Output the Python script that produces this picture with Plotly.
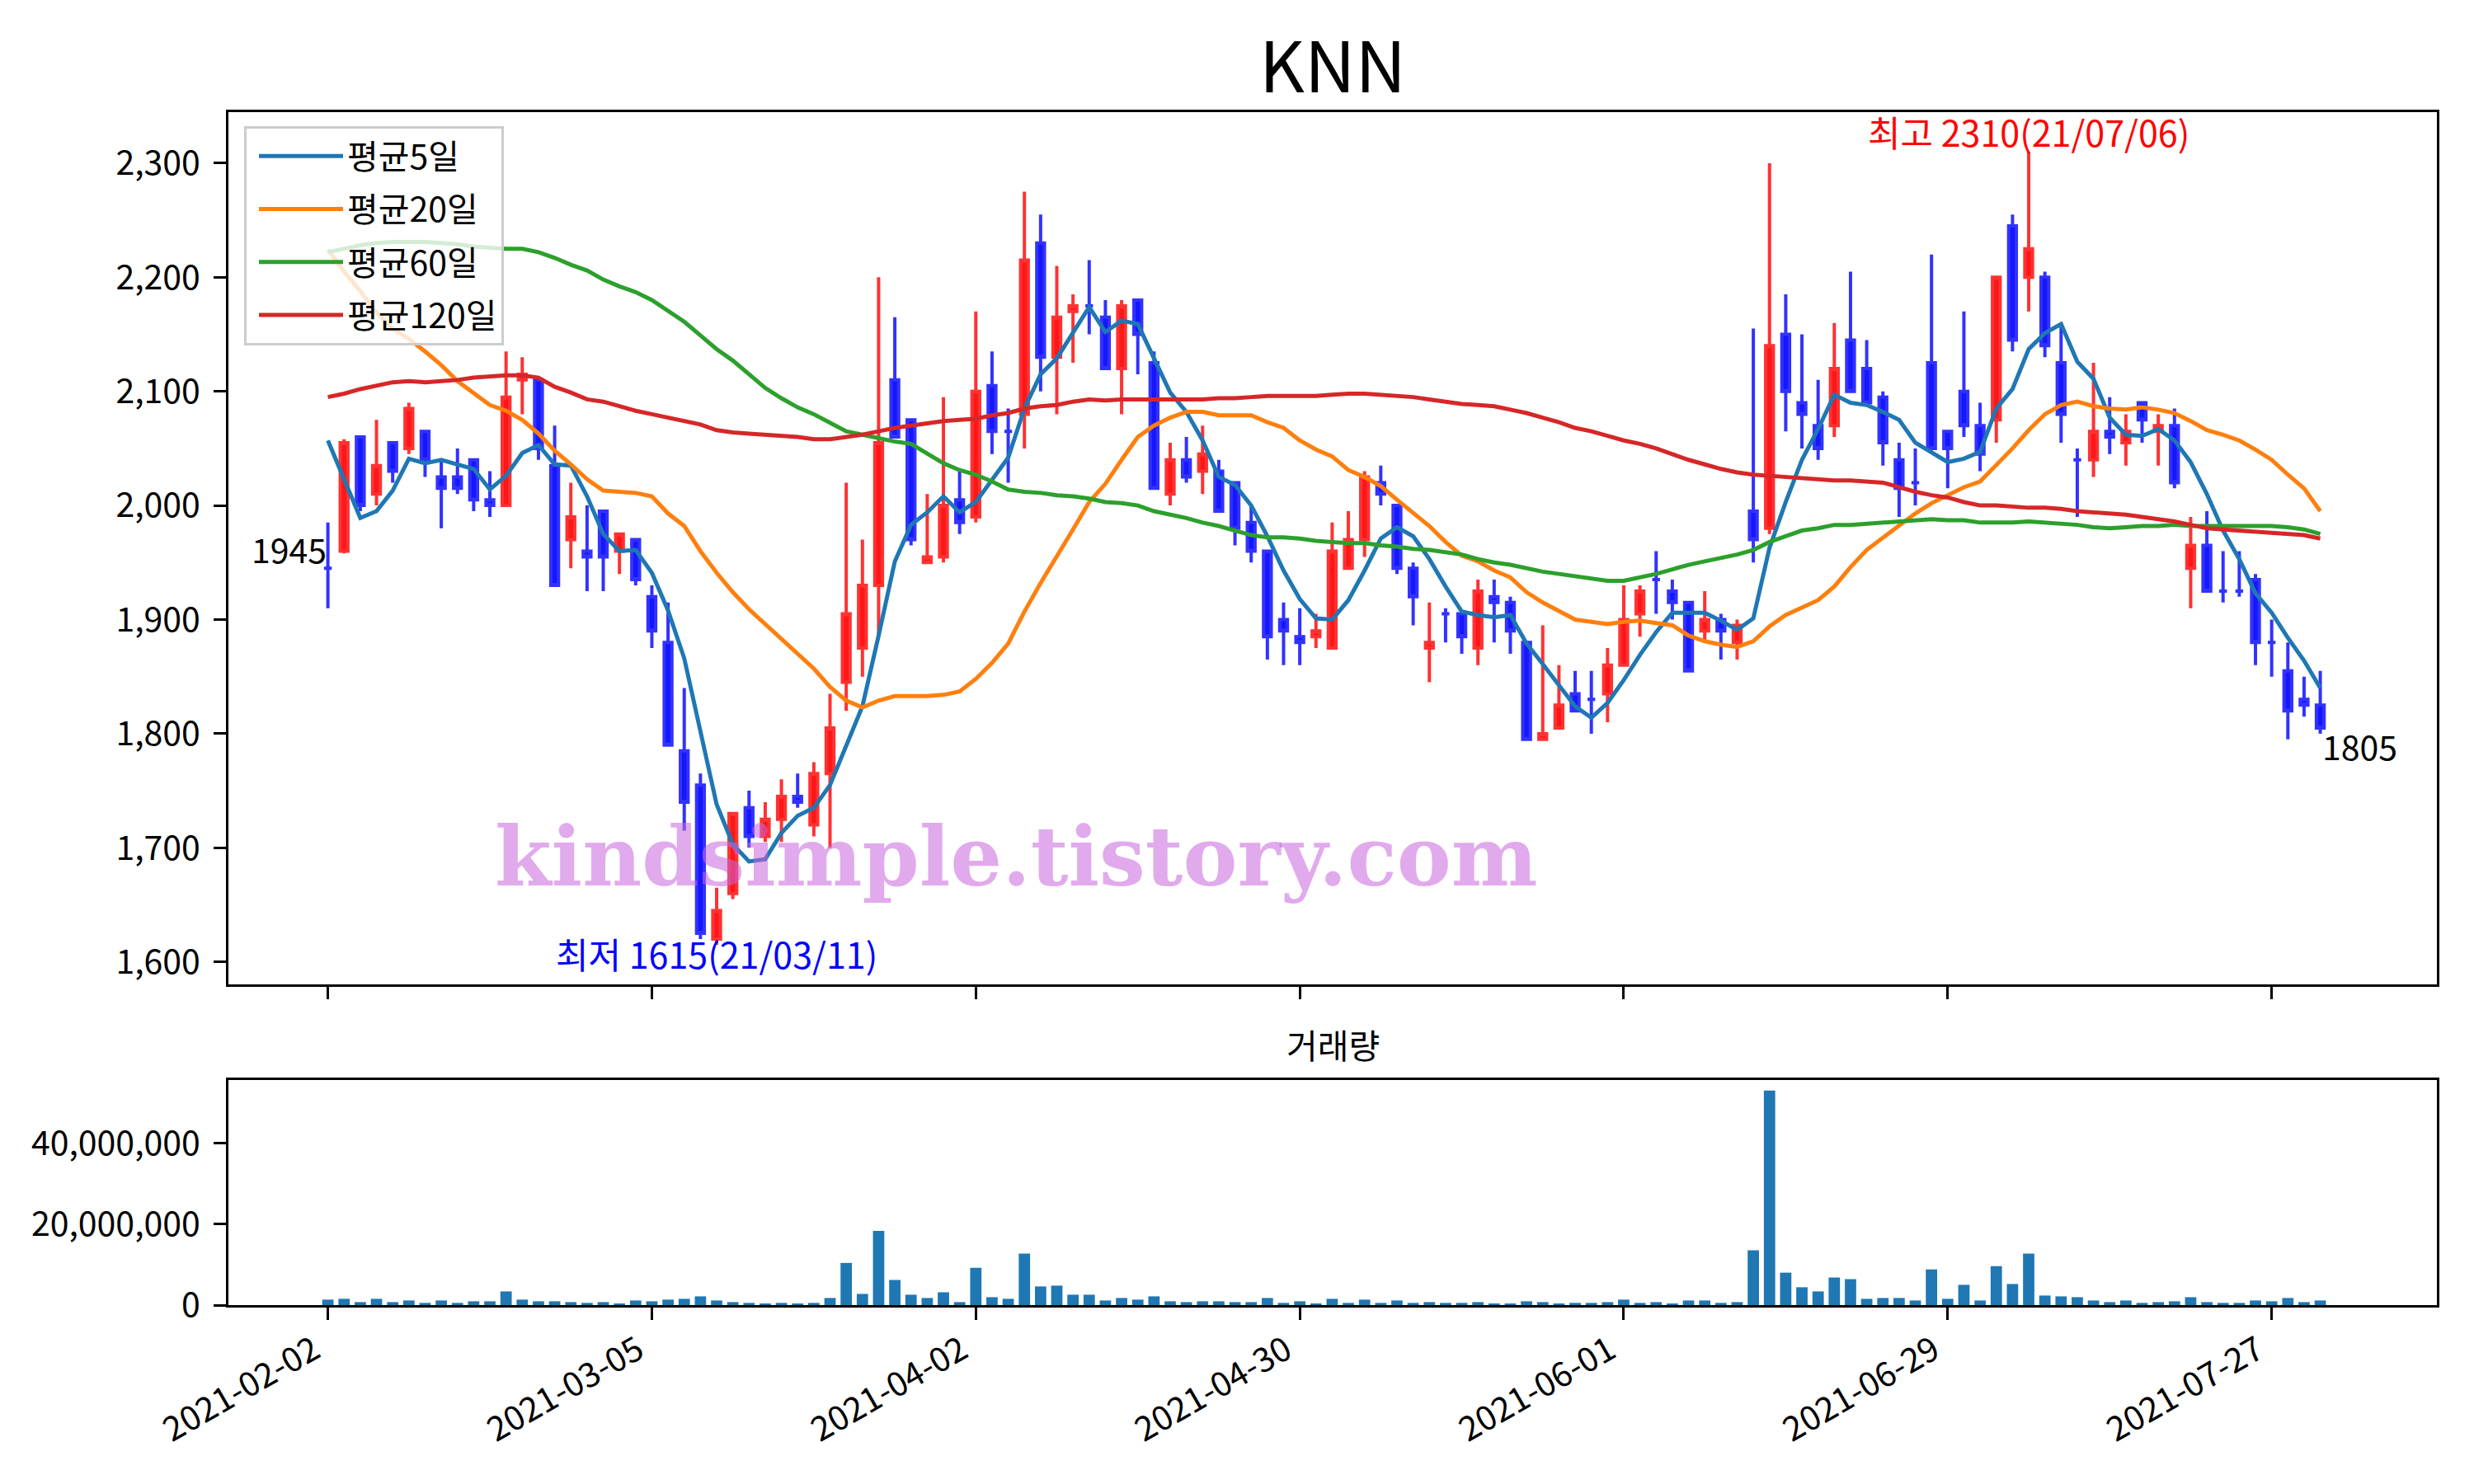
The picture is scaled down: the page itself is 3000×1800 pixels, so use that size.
import plotly.graph_objects as go

# ---------------- data ----------------
tick_labels = ["2021-02-02", "2021-03-05", "2021-04-02", "2021-04-30",
               "2021-06-01", "2021-06-29", "2021-07-27"]
tick_pos = [0, 20, 40, 60, 80, 100, 120]

open_ = [1945, 1960, 2060, 2010, 2055, 2050, 2065, 2025, 2025, 2040,
         2005, 2000, 2110, 2110, 2035, 1970, 1960, 1995, 1960, 1970,
         1920, 1880, 1785, 1755, 1620, 1660, 1735, 1710, 1725, 1745,
         1720, 1765, 1845, 1875, 1930, 2110, 2075, 1950, 1955, 2005,
         1990, 2105, 2065, 2080, 2230, 2130, 2170, 2175, 2165, 2120,
         2180, 2125, 2010, 2040, 2030, 2030, 2020, 1985, 1960, 1900,
         1885, 1885, 1875, 1945, 1970, 2020, 2000, 1945, 1875, 1905,
         1905, 1875, 1920, 1915, 1880, 1795, 1805, 1835, 1830, 1835,
         1860, 1905, 1935, 1925, 1915, 1890, 1900, 1880, 1995, 1980,
         2150, 2090, 2070, 2070, 2145, 2120, 2095, 2040, 2020, 2125,
         2065, 2100, 2070, 2075, 2245, 2200, 2200, 2125, 2040, 2040,
         2065, 2055, 2090, 2065, 2070, 1945, 1965, 1925, 1925, 1935,
         1880, 1855, 1830, 1825]
high = [1985, 2058, 2060, 2075, 2055, 2090, 2065, 2040, 2050, 2040,
        2030, 2135, 2130, 2110, 2070, 2020, 2000, 1995, 1975, 1970,
        1930, 1915, 1840, 1765, 1665, 1730, 1750, 1740, 1760, 1765,
        1775, 1835, 2020, 1970, 2200, 2165, 2075, 2010, 2095, 2030,
        2170, 2135, 2085, 2275, 2255, 2210, 2185, 2215, 2180, 2180,
        2180, 2135, 2055, 2060, 2070, 2040, 2020, 2000, 1960, 1915,
        1910, 1905, 1985, 1995, 2030, 2035, 2000, 1950, 1915, 1910,
        1905, 1935, 1935, 1920, 1880, 1895, 1860, 1855, 1855, 1875,
        1930, 1930, 1960, 1935, 1915, 1925, 1905, 1900, 2155, 2300,
        2185, 2150, 2110, 2160, 2205, 2145, 2100, 2055, 2050, 2220,
        2065, 2170, 2090, 2200, 2255, 2310, 2205, 2160, 2050, 2125,
        2095, 2080, 2090, 2080, 2085, 1990, 1995, 1960, 1960, 1940,
        1900, 1880, 1850, 1855]
low = [1910, 1958, 1995, 2000, 2020, 2045, 2025, 1980, 2010, 1995,
       1990, 2000, 2080, 2040, 1930, 1945, 1925, 1925, 1940, 1930,
       1875, 1790, 1715, 1620, 1615, 1655, 1700, 1705, 1705, 1735,
       1710, 1700, 1820, 1850, 1885, 2060, 1965, 1950, 1950, 1975,
       1985, 2045, 2020, 2050, 2100, 2080, 2125, 2150, 2120, 2080,
       2115, 2015, 2000, 2020, 2010, 1995, 1965, 1950, 1865, 1860,
       1860, 1875, 1875, 1945, 1955, 2000, 1940, 1895, 1845, 1880,
       1870, 1860, 1880, 1870, 1795, 1795, 1805, 1820, 1800, 1810,
       1860, 1885, 1905, 1900, 1855, 1880, 1865, 1865, 1950, 1975,
       2065, 2050, 2040, 2060, 2100, 2090, 2035, 1990, 2000, 2050,
       2015, 2060, 2030, 2055, 2135, 2170, 2130, 2055, 1990, 2025,
       2045, 2035, 2055, 2035, 2015, 1910, 1925, 1915, 1920, 1860,
       1850, 1795, 1815, 1800]
close = [1945, 2055, 2000, 2035, 2030, 2085, 2040, 2015, 2015, 2005,
         2000, 2095, 2115, 2050, 1930, 1990, 1955, 1955, 1975, 1935,
         1890, 1790, 1740, 1625, 1645, 1730, 1710, 1725, 1745, 1740,
         1765, 1805, 1905, 1930, 2055, 2060, 1970, 1955, 2000, 1985,
         2100, 2065, 2065, 2215, 2130, 2165, 2175, 2175, 2120, 2175,
         2150, 2015, 2040, 2025, 2045, 1995, 1980, 1960, 1885, 1890,
         1880, 1890, 1960, 1970, 2025, 2010, 1945, 1920, 1880, 1905,
         1885, 1925, 1915, 1890, 1795, 1800, 1825, 1820, 1830, 1860,
         1900, 1925, 1935, 1915, 1855, 1900, 1890, 1895, 1970, 2140,
         2100, 2080, 2050, 2120, 2100, 2090, 2055, 2015, 2020, 2050,
         2050, 2070, 2045, 2200, 2145, 2225, 2140, 2080, 2040, 2065,
         2060, 2065, 2075, 2070, 2020, 1965, 1925, 1925, 1925, 1880,
         1880, 1820, 1825, 1805]

ma5 = [2057, 2023, 1989, 1995, 2013, 2041, 2037, 2040, 2036, 2032,
       2014, 2026, 2046, 2053, 2036, 2035, 2008, 1975, 1960, 1961,
       1941, 1908, 1866, 1800, 1738, 1703, 1688, 1690, 1713, 1728,
       1735, 1755, 1790, 1824, 1886, 1951, 1983, 1994, 2008, 1994,
       2003, 2022, 2042, 2085, 2115, 2129, 2151, 2174, 2152, 2162,
       2159, 2129, 2099, 2082, 2057, 2025, 2018, 2000, 1973, 1943,
       1918, 1901, 1900, 1917, 1943, 1971, 1981, 1973, 1953, 1929,
       1907, 1904, 1902, 1904, 1879, 1861, 1842, 1824, 1814, 1827,
       1847, 1869, 1889, 1906, 1906, 1906, 1899, 1891, 1901, 1963,
       2003, 2040, 2067, 2097, 2090, 2088, 2082, 2075, 2055, 2046,
       2038, 2041, 2047, 2085, 2102, 2137, 2151, 2159, 2126, 2111,
       2077, 2062, 2061, 2067, 2057, 2038, 2010, 1978, 1953, 1923,
       1906, 1884, 1864, 1840]
ma20 = [2224, 2205, 2188, 2169, 2155, 2146, 2135, 2123, 2109, 2099,
        2088, 2083, 2075, 2063, 2048, 2036, 2023, 2013, 2012, 2011,
        2008, 1993, 1982, 1960, 1941, 1924, 1909, 1896, 1883, 1870,
        1857, 1841, 1829, 1823, 1829, 1833, 1833, 1833, 1834, 1837,
        1848, 1862, 1879, 1907, 1932, 1955, 1979, 2003, 2019, 2040,
        2060, 2070, 2077, 2082, 2082, 2079, 2079, 2079, 2073, 2068,
        2057, 2049, 2043, 2031, 2025, 2017, 2005, 1993, 1982, 1968,
        1956, 1951, 1943, 1937, 1924, 1915, 1907, 1900, 1898, 1896,
        1898, 1899, 1897, 1895, 1886, 1881, 1878, 1876, 1881, 1894,
        1904, 1911, 1917, 1929, 1946, 1961, 1972, 1983, 1993, 2002,
        2009, 2016, 2021, 2035, 2050, 2066, 2080, 2088, 2091, 2087,
        2085, 2084, 2086, 2084, 2081, 2074, 2066, 2062, 2057, 2049,
        2040, 2027, 2015, 1995]
ma60 = [2222, 2225, 2228, 2230, 2231, 2231, 2231, 2230, 2229, 2227,
        2226, 2225, 2225, 2222, 2217, 2211, 2206, 2198, 2192, 2187,
        2180, 2171, 2161, 2149, 2137, 2127, 2115, 2103, 2094, 2086,
        2080, 2073, 2065, 2062, 2059, 2056, 2054, 2046, 2037, 2031,
        2027, 2021, 2014, 2012, 2011, 2009, 2008, 2006, 2003, 2002,
        2000, 1995, 1992, 1989, 1985, 1982, 1978, 1974, 1972, 1972,
        1971, 1969, 1968, 1967, 1967, 1965, 1964, 1962, 1961, 1959,
        1957, 1953, 1950, 1948, 1945, 1942, 1940, 1938, 1936, 1934,
        1934, 1937, 1940, 1944, 1948, 1951, 1954, 1957, 1961, 1968,
        1973, 1978, 1980, 1983, 1983, 1984, 1985, 1986, 1987, 1988,
        1987, 1987, 1985, 1985, 1985, 1986, 1985, 1984, 1983, 1981,
        1980, 1981, 1982, 1982, 1983, 1982, 1982, 1982, 1982, 1982,
        1982, 1981, 1979, 1975]
ma120 = [2095, 2098, 2102, 2105, 2108, 2109, 2108, 2109, 2110, 2112,
         2113, 2114, 2114, 2112, 2104, 2099, 2093, 2091, 2087, 2083,
         2080, 2077, 2074, 2071, 2066, 2064, 2063, 2062, 2061, 2060,
         2058, 2058, 2060, 2062, 2065, 2068, 2070, 2072, 2074, 2075,
         2076, 2079, 2081, 2085, 2087, 2088, 2091, 2093, 2092, 2093,
         2093, 2093, 2093, 2093, 2093, 2094, 2094, 2095, 2096, 2096,
         2096, 2096, 2097, 2098, 2098, 2097, 2096, 2095, 2093, 2091,
         2089, 2088, 2087, 2084, 2081, 2077, 2073, 2068, 2065, 2061,
         2057, 2054, 2050, 2045, 2040, 2036, 2032, 2029, 2027, 2026,
         2025, 2024, 2023, 2022, 2022, 2021, 2020, 2016, 2012, 2009,
         2007, 2003, 2000, 2000, 1999, 1998, 1998, 1997, 1995, 1994,
         1993, 1992, 1990, 1988, 1986, 1983, 1980, 1979, 1978, 1977,
         1976, 1975, 1974, 1971]

volume = [1350000, 1550000, 740000, 1550000, 740000, 1140000, 540000, 1140000, 540000, 940000,
          940000, 3370000, 1350000, 940000, 940000, 740000, 540000, 740000, 340000, 1140000,
          940000, 1350000, 1550000, 2150000, 1140000, 740000, 540000, 340000, 540000, 340000,
          540000, 1750000, 10400000, 2760000, 18300000, 6200000, 2560000, 1750000, 3160000, 740000,
          9200000, 1950000, 1550000, 12700000, 4600000, 4800000, 2560000, 2560000, 1140000, 1750000,
          1350000, 2150000, 940000, 740000, 940000, 940000, 740000, 740000, 1750000, 540000,
          940000, 340000, 1550000, 540000, 1350000, 540000, 1140000, 540000, 740000, 540000,
          540000, 740000, 340000, 340000, 940000, 740000, 340000, 540000, 540000, 740000,
          1350000, 540000, 740000, 340000, 1140000, 1140000, 540000, 740000, 13500000, 52900000,
          8000000, 4400000, 3370000, 6800000, 6400000, 1550000, 1750000, 1750000, 1140000, 8800000,
          1550000, 5000000, 1140000, 9600000, 5200000, 12700000, 2360000, 2150000, 1950000, 1140000,
          740000, 1140000, 540000, 740000, 940000, 1950000, 740000, 540000, 540000, 1140000,
          940000, 1750000, 740000, 1140000]

ma_names = ["평균5일", "평균20일", "평균60일", "평균120일"]
first_label = "1945"
last_label = "1805"
high_label = "최고 2310(21/07/06)"
low_label = "최저 1615(21/03/11)"
title_text = "KNN"
volume_title = "거래량"
watermark = "kindsimple.tistory.com"

# ---------------- figure ----------------
FONT = "Noto Sans CJK KR"
FS = 41
OFF = 8  # page offset of the figure in the browser


def px_x(p):
    return (p - OFF) / 3000


def px_y(p):
    return 1 - (p - OFF) / 1800


idx = list(range(len(close)))
up = [i for i in idx if close[i] > open_[i]]
dn = [i for i in idx if close[i] <= open_[i]]

fig = go.Figure()


def candles(ids, fill, edge):
    style = dict(fillcolor=fill, line=dict(color=edge, width=4))
    return go.Candlestick(
        x=ids,
        open=[open_[i] for i in ids], high=[high[i] for i in ids],
        low=[low[i] for i in ids], close=[close[i] for i in ids],
        increasing=style, decreasing=style, whiskerwidth=0,
        showlegend=False, hoverinfo="skip", xaxis="x", yaxis="y")


fig.add_trace(candles(up, "rgb(255,22,22)", "rgb(255,50,50)"))
fig.add_trace(candles(dn, "rgb(22,22,255)", "rgb(50,50,255)"))

for k, (name, vals, col) in enumerate(zip(ma_names, [ma5, ma20, ma60, ma120],
                                          ["#1f77b4", "#ff7f0e", "#2ca02c", "#d62728"])):
    fig.add_trace(go.Scatter(x=idx, y=vals, mode="lines", name=name,
                             legendgroup="g%d" % k,
                             line=dict(color=col, width=5),
                             xaxis="x", yaxis="y"))

fig.add_trace(go.Bar(x=idx, y=volume, width=0.7, marker=dict(color="#1f77b4", line=dict(width=0)),
                     showlegend=False, xaxis="x2", yaxis="y2"))

XDOM = [px_x(277), px_x(2955)]
XRANGE = [-6.14, 130.2]
axis_common = dict(showline=True, linecolor="black", linewidth=3, mirror=True,
                   ticks="outside", ticklen=15, tickwidth=3, tickcolor="black",
                   showgrid=False, zeroline=False, automargin=False,
                   tickfont=dict(family=FONT, size=FS, color="black"))

fig.update_layout(
    width=3000, height=1800,
    margin=dict(l=0, r=0, t=0, b=0, autoexpand=False),
    paper_bgcolor="white", plot_bgcolor="white",
    boxgap=0.32,
    font=dict(family=FONT, size=FS, color="black"),
    title=dict(text=title_text, x=px_x(1616), xanchor="center",
               y=px_y(82), yanchor="middle",
               font=dict(family=FONT, size=85, color="black")),
    xaxis=dict(domain=XDOM, range=XRANGE, anchor="y",
               tickvals=tick_pos, showticklabels=False,
               rangeslider=dict(visible=False), **axis_common),
    yaxis=dict(domain=[px_y(1194), px_y(136)], range=[1580.25, 2344.75],
               anchor="x", tickvals=list(range(1600, 2301, 100)), tickformat=",d",
               ticklabelstandoff=8, **axis_common),
    xaxis2=dict(domain=XDOM, range=XRANGE, anchor="y2", matches="x",
                tickvals=tick_pos, ticktext=tick_labels, tickangle=-30,
                ticklabelshift=-17, ticklabelstandoff=-3,
                **axis_common),
    yaxis2=dict(domain=[px_y(1583), px_y(1310)], range=[0, 55.5e6],
                anchor="x2", tickvals=[0, 20000000, 40000000], tickformat=",d",
                ticklabelstandoff=8, **axis_common),
    legend=dict(x=px_x(296), y=px_y(153), xanchor="left", yanchor="top",
                bgcolor="rgba(255,255,255,0.8)", bordercolor="#cccccc", borderwidth=3,
                font=dict(family=FONT, size=FS, color="black"),
                itemwidth=102, indentation=10, tracegroupgap=8, traceorder="grouped"),
    showlegend=True,
)

annots = [
    dict(text=watermark, x=px_x(1232), y=px_y(1039), xref="paper", yref="paper",
         showarrow=False, xanchor="center", yanchor="middle",
         font=dict(family="DejaVu Serif", size=99, weight="bold", color="rgba(200,100,220,0.55)")),
    dict(text=first_label, x=0, y=close[0], xref="x", yref="y", showarrow=False,
         xanchor="right", yanchor="bottom", yshift=-8,
         font=dict(family=FONT, size=FS, color="black")),
    dict(text=last_label, x=idx[-1], y=close[-1], xref="x", yref="y", showarrow=False,
         xanchor="left", yanchor="top", yshift=11,
         font=dict(family=FONT, size=FS, color="black")),
    dict(text=high_label, x=high.index(max(high)), y=max(high), xref="x", yref="y",
         showarrow=False, xanchor="center", yanchor="bottom", yshift=-8,
         font=dict(family=FONT, size=43, color="red")),
    dict(text=low_label, x=low.index(min(low)), y=min(low), xref="x", yref="y",
         showarrow=False, xanchor="center", yanchor="top", yshift=23,
         font=dict(family=FONT, size=43, color="blue")),
    dict(text=volume_title, x=px_x(1616), y=px_y(1266), xref="paper", yref="paper",
         showarrow=False, xanchor="center", yanchor="middle",
         font=dict(family=FONT, size=FS, color="black")),
]
fig.update_layout(annotations=annots)

fig.write_html("out.html")
